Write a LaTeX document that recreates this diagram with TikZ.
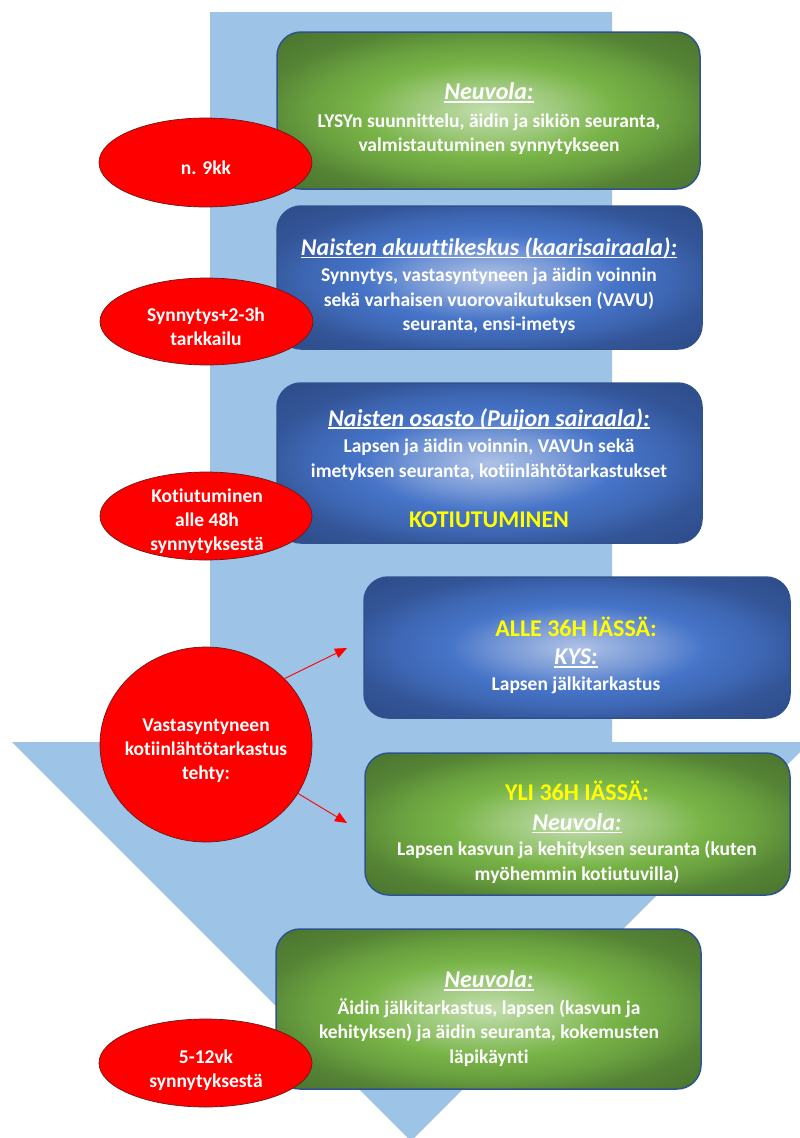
\documentclass[tikz,border=0pt]{standalone}
\usepackage{fontspec}
\setmainfont{Carlito}[Ligatures={NoCommon}]
\usetikzlibrary{arrows.meta,shapes.geometric}
\definecolor{shaft}{HTML}{9DC3E6}
\definecolor{gC}{HTML}{C3DEAF}
\definecolor{gM}{HTML}{78B447}
\definecolor{gE}{HTML}{4A742F}
\definecolor{bC}{HTML}{AFC2E6}
\definecolor{bM}{HTML}{4674C8}
\definecolor{bE}{HTML}{2D4B88}
\definecolor{boxline}{HTML}{2F528F}
\definecolor{ellline}{HTML}{6B1A1A}
\definecolor{ylw}{HTML}{FFFF00}
\pgfdeclareradialshading{gshade}{\pgfpoint{0bp}{0bp}}{color(0bp)=(gC); color(9bp)=(gC!45!gM); color(15bp)=(gM); color(21bp)=(gM!70!gE); color(27bp)=(gM!25!gE); color(35bp)=(gE); color(50bp)=(gE)}
\pgfdeclareradialshading{bshade}{\pgfpoint{0bp}{0bp}}{color(0bp)=(bC); color(9bp)=(bC!45!bM); color(15bp)=(bM); color(21bp)=(bM!70!bE); color(27bp)=(bM!25!bE); color(35bp)=(bE); color(50bp)=(bE)}
\newcommand\ttlul[1]{{\fontsize{24}{28}\selectfont\itshape\setbox0\hbox{#1}\rlap{\rule[-3pt]{\wd0}{1.6pt}}\box0}}
\newcommand\ylwbig[1]{{\color{ylw}\fontsize{24}{28}\selectfont #1}}
\tikzset{
  boxbase/.style={rounded corners=24pt, draw=boxline, line width=1.5pt, inner sep=0pt},
  boxg/.style={boxbase, shading=gshade},
  boxb/.style={boxbase, shading=bshade},
  redell/.style={ellipse, fill=red, draw=ellline, line width=0.7pt, inner sep=0pt},
  boxtxt/.style={text=white, font=\fontsize{19.5}{24.5}\selectfont\bfseries, align=center, inner sep=0pt},
  elltxt/.style={text=white, font=\fontsize{19.5}{24}\selectfont\bfseries, align=center, inner sep=0pt},
  redarrow/.style={draw=red, line width=0.9pt, -{Triangle[length=12pt,width=10pt]}}
}
\begin{document}
\begin{tikzpicture}[x=1pt,y=-1pt]
\useasboundingbox (0,0) rectangle (800,1138);
% big arrow
\fill[shaft] (210,12) -- (612,12) -- (612,742) -- (810,742) -- (411,1141) -- (12,742) -- (210,742) -- cycle;
% boxes
\node[boxg, minimum width=423pt, minimum height=157pt] (b1) at (488.5,110.5) {};
\node[boxb, minimum width=425pt, minimum height=143pt] (b2) at (489.5,277.5) {};
\node[boxb, minimum width=425pt, minimum height=160pt] (b3) at (489.5,463) {};
\node[boxb, minimum width=426pt, minimum height=141pt] (b4) at (577,647.5) {};
\node[boxg, minimum width=425pt, minimum height=142pt] (b5) at (577.5,824) {};
\node[boxg, minimum width=425pt, minimum height=160pt] (b6) at (488.5,1009) {};
% box texts
\node[boxtxt] (t1) at (489,119) {\ttlul{Neuvola:}\\[3pt] LYSYn suunnittelu, äidin ja sikiön seuranta,\\ valmistautuminen synnytykseen};
\node[boxtxt] (t2) at (489,285.5) {\ttlul{Naisten akuuttikeskus (kaarisairaala):}\\[2pt] Synnytys, vastasyntyneen ja äidin voinnin\\ sekä varhaisen vuorovaikutuksen (VAVU)\\ seuranta, ensi-imetys};
\node[boxtxt] (t3) at (489,468) {\ttlul{Naisten osasto (Puijon sairaala):}\\[2pt] Lapsen ja äidin voinnin, VAVUn sekä\\ imetyksen seuranta, kotiinlähtötarkastukset\\[26pt] \ylwbig{KOTIUTUMINEN}};
\node[boxtxt] (t4) at (576,655) {\ylwbig{ALLE 36H IÄSSÄ:}\\[4pt] \ttlul{KYS:}\\[1pt] Lapsen jälkitarkastus};
\node[boxtxt] (t5) at (577,832.5) {\ylwbig{YLI 36H IÄSSÄ:}\\[5pt] \ttlul{Neuvola:}\\[1pt] Lapsen kasvun ja kehityksen seuranta (kuten\\ myöhemmin kotiutuvilla)};
\node[boxtxt] (t6) at (489,1018.5) {\ttlul{Neuvola:}\\[2pt] Äidin jälkitarkastus, lapsen (kasvun ja\\ kehityksen) ja äidin seuranta, kokemusten\\ läpikäynti};
% ellipses
\node[redell, minimum width=213pt, minimum height=89pt] (e1) at (205.5,162.5) {};
\node[redell, minimum width=213pt, minimum height=87pt] (e2) at (206.5,321.5) {};
\node[redell, minimum width=212pt, minimum height=88pt] (e3) at (206,516) {};
\node[redell, minimum width=212pt, minimum height=195pt] (e4) at (206,744.5) {};
\node[redell, minimum width=213pt, minimum height=88pt] (e5) at (205.5,1063) {};
\node[elltxt] (et1) at (206,167.5) {n. 9kk};
\node[elltxt] (et2) at (206,326.7) {Synnytys+2-3h\\tarkkailu};
\node[elltxt] (et3) at (207,520.8) {Kotiutuminen\\alle 48h\\synnytyksestä};
\node[elltxt] (et4) at (206,750.8) {Vastasyntyneen\\kotiinlähtötarkastus\\tehty:};
\node[elltxt] (et5) at (206,1070) {5-12vk\\synnytyksestä};
% arrows
\coordinate (a1) at (347,648);
\coordinate (a2) at (347,823);
\draw[redarrow] (e4.40) -- (a1);
\draw[redarrow] (e4.-28) -- (a2);
\end{tikzpicture}
\end{document}
